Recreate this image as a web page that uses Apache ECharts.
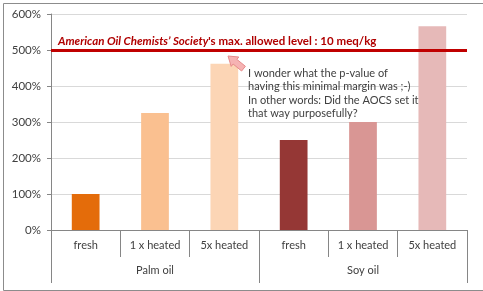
<!DOCTYPE html>
<html><head><meta charset="utf-8">
<script src="https://cdn.jsdelivr.net/npm/echarts@6/dist/echarts.min.js"></script>
<style>html,body{margin:0;padding:0;background:#fff}#c{width:483px;height:291px}</style>
</head><body><div id="c"></div>
<script>
const categories = ['fresh', '1 x heated', '5x heated', 'fresh', '1 x heated', '5x heated'];
const groups = ['Palm oil', 'Soy oil'];
const palmValues = [100, 325, 462];
const soyValues = [250, 300, 566];
const limitValue = 500;
const yTicks = [0, 100, 200, 300, 400, 500, 600];
const limitLabelItalic = 'American Oil Chemists\u2019 Society';
const limitLabelRest = '\'s max. allowed level : 10 meq/kg';
const noteLines = ['I wonder what the p-value of', 'having this minimal margin was ;-)', 'In other words: Did the AOCS set it', 'that way purposefully?'];

const barColors = ['#E46C0A', '#FAC090', '#FCD5B5', '#953735', '#D99694', '#E6B9B8'];
const FONT = 'Lato, "Open Sans", sans-serif';
const values = palmValues.concat(soyValues);

const chart = echarts.init(document.getElementById('c'));
chart.setOption({
  animation: false,
  grid: {left: 51, right: 16, top: 14, bottom: 61},
  xAxis: [
    {type: 'category', data: categories, position: 'bottom',
     axisLine: {lineStyle: {color: '#868686'}},
     axisTick: {show: true, interval: 0, length: 27, lineStyle: {color: '#868686'}},
     axisLabel: {interval: 0, margin: 10, fontSize: 11, color: '#404040', fontFamily: FONT}},
    {type: 'category', data: groups, position: 'bottom',
     axisLine: {show: false},
     axisTick: {show: true, interval: 0, length: 53, lineStyle: {color: '#868686'}},
     axisLabel: {interval: 0, margin: 35, fontSize: 11, color: '#404040', fontFamily: FONT}}
  ],
  yAxis: {type: 'value', min: yTicks[0], max: yTicks[yTicks.length - 1], interval: 100,
    axisLine: {show: true, lineStyle: {color: '#868686'}},
    axisTick: {show: true, length: 4, lineStyle: {color: '#868686'}},
    axisLabel: {formatter: '{value}%', margin: 10, fontSize: 11.5, color: '#404040', fontFamily: FONT},
    splitLine: {lineStyle: {color: '#D9D9D9'}}},
  series: [{
    type: 'bar', xAxisIndex: 0, barWidth: '40%',
    data: values.map((v, i) => ({value: v, itemStyle: {color: barColors[i]}})),
    markLine: {
      symbol: 'none', silent: true,
      lineStyle: {color: '#C00000', width: 3, type: 'solid'},
      data: [{yAxis: limitValue}],
      label: {show: true, position: 'insideStartTop', distance: [7, 3],
        formatter: '{i|' + limitLabelItalic + '}{n|' + limitLabelRest + '}',
        rich: {
          i: {fontStyle: 'italic', fontWeight: 'bold', color: '#B00000', fontSize: 11.5, fontFamily: FONT},
          n: {fontWeight: 'bold', color: '#B00000', fontSize: 11.5, fontFamily: FONT}
        }}
    }
  }],
  graphic: [
    {type: 'rect', left: 1, top: 1, shape: {x: 0, y: 0, width: 480, height: 287}, style: {fill: 'none', stroke: '#8C8C8C', lineWidth: 1}, silent: true, z: 100},
    {type: 'polygon', shape: {points: [[228,56],[238.8,57],[236.9,59.4],[245.4,66.3],[241.6,71.0],[233.1,64.0],[231.2,66.4]]},
     style: {fill: '#F6B3B3', stroke: '#E68A8A', lineWidth: 1}, z: 100},
    {type: 'text', left: 248, top: 67, style: {text: noteLines.join('\n'), fontSize: 11, lineHeight: 13.3, fill: '#404040', fontFamily: FONT}, z: 100}
  ]
});
</script></body></html>
